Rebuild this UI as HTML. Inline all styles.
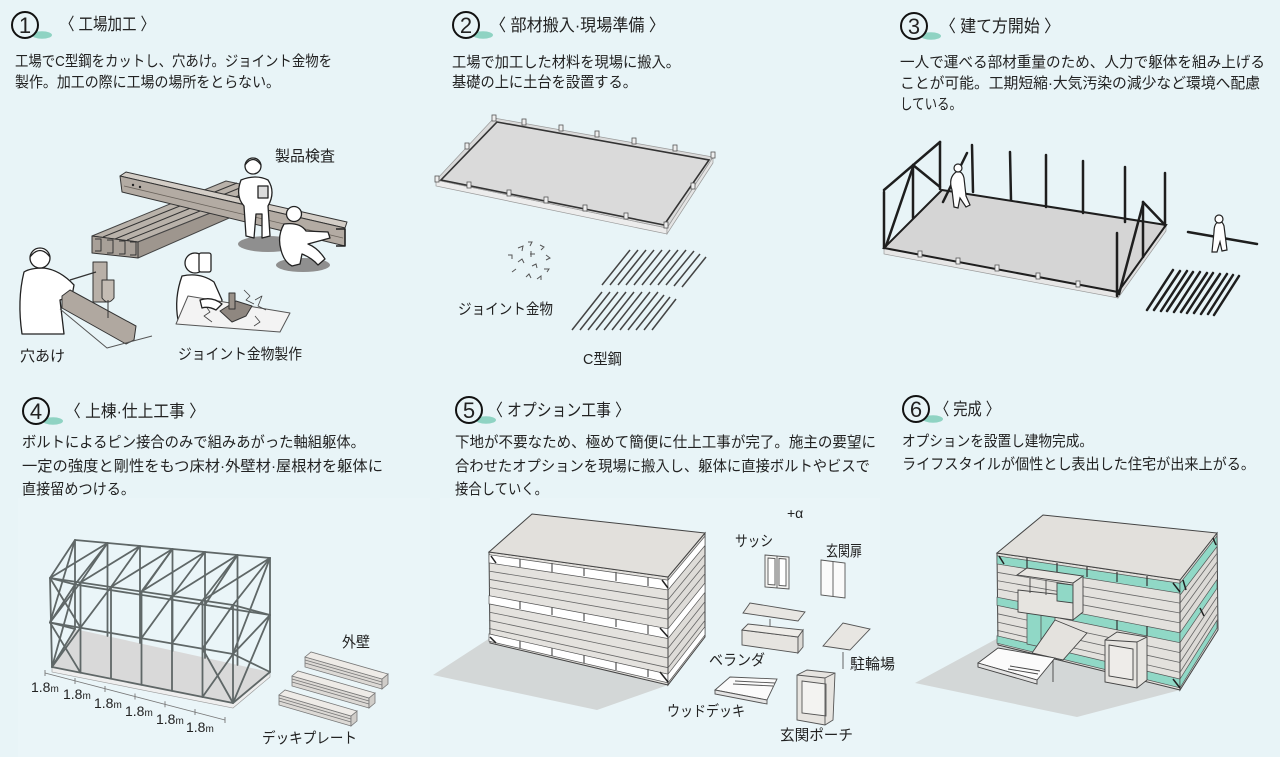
<!DOCTYPE html>
<html><head><meta charset="utf-8">
<style>
html,body{margin:0;padding:0;background:#e8f4f7;}
svg{display:block}
text{font-family:"Liberation Sans","Noto Sans CJK JP",sans-serif;fill:#222;}
</style></head>
<body>
<svg width="1280" height="757" viewBox="0 0 1280 757" xmlns="http://www.w3.org/2000/svg">
<rect width="1280" height="757" fill="#e8f4f7"/>
<rect x="18" y="498" width="412" height="259" fill="#eaf5f8"/>
<rect x="440" y="498" width="440" height="259" fill="#eaf5f8"/>

<!-- ===== Number badges ===== -->
<g>
<ellipse cx="42" cy="35" rx="10" ry="3.8" fill="#8fd3c3"/>
<circle cx="25" cy="25" r="13" fill="#e8f4f7" stroke="#111" stroke-width="2"/>
<text x="25" y="33" font-size="22" text-anchor="middle" fill="#111">1</text>
<ellipse cx="483" cy="35" rx="10" ry="3.8" fill="#8fd3c3"/>
<circle cx="466" cy="25" r="13" fill="#e8f4f7" stroke="#111" stroke-width="2"/>
<text x="466" y="33" font-size="22" text-anchor="middle" fill="#111">2</text>
<ellipse cx="931" cy="36" rx="10" ry="3.8" fill="#8fd3c3"/>
<circle cx="914" cy="26" r="13" fill="#e8f4f7" stroke="#111" stroke-width="2"/>
<text x="914" y="34" font-size="22" text-anchor="middle" fill="#111">3</text>
<ellipse cx="53" cy="421" rx="10" ry="3.8" fill="#8fd3c3"/>
<circle cx="36" cy="411" r="13" fill="#e8f4f7" stroke="#111" stroke-width="2"/>
<text x="36" y="419" font-size="22" text-anchor="middle" fill="#111">4</text>
<ellipse cx="486" cy="420" rx="10" ry="3.8" fill="#8fd3c3"/>
<circle cx="469" cy="410" r="13" fill="#e8f4f7" stroke="#111" stroke-width="2"/>
<text x="469" y="418" font-size="22" text-anchor="middle" fill="#111">5</text>
<ellipse cx="933" cy="419" rx="10" ry="3.8" fill="#8fd3c3"/>
<circle cx="916" cy="409" r="13" fill="#e8f4f7" stroke="#111" stroke-width="2"/>
<text x="916" y="417" font-size="22" text-anchor="middle" fill="#111">6</text>
</g>

<!-- ===== Headings ===== -->
<text x="60" y="30" font-size="17" textLength="95" lengthAdjust="spacingAndGlyphs">〈 工場加工 〉</text>
<text x="490" y="31" font-size="17" textLength="175" lengthAdjust="spacingAndGlyphs">〈 部材搬入·現場準備 〉</text>
<text x="940" y="32" font-size="17" textLength="120" lengthAdjust="spacingAndGlyphs">〈 建て方開始 〉</text>
<text x="65" y="417" font-size="17" textLength="140" lengthAdjust="spacingAndGlyphs">〈 上棟·仕上工事 〉</text>
<text x="488" y="416" font-size="17" textLength="142" lengthAdjust="spacingAndGlyphs">〈 オプション工事 〉</text>
<text x="935" y="415" font-size="17" textLength="65" lengthAdjust="spacingAndGlyphs">〈 完成 〉</text>

<!-- ===== Body text ===== -->
<g font-size="15">
<text x="15" y="66" textLength="317" lengthAdjust="spacingAndGlyphs">工場でC型鋼をカットし、穴あけ。ジョイント金物を</text>
<text x="15" y="87" textLength="265" lengthAdjust="spacingAndGlyphs">製作。加工の際に工場の場所をとらない。</text>

<text x="452" y="67" textLength="228" lengthAdjust="spacingAndGlyphs">工場で加工した材料を現場に搬入。</text>
<text x="452" y="87" textLength="185" lengthAdjust="spacingAndGlyphs">基礎の上に土台を設置する。</text>

<text x="900" y="67" textLength="365" lengthAdjust="spacingAndGlyphs">一人で運べる部材重量のため、人力で躯体を組み上げる</text>
<text x="900" y="88" textLength="360" lengthAdjust="spacingAndGlyphs">ことが可能。工期短縮·大気汚染の減少など環境へ配慮</text>
<text x="900" y="109" textLength="62" lengthAdjust="spacingAndGlyphs">している。</text>

<text x="22" y="447" textLength="343" lengthAdjust="spacingAndGlyphs">ボルトによるピン接合のみで組みあがった軸組躯体。</text>
<text x="22" y="471" textLength="361" lengthAdjust="spacingAndGlyphs">一定の強度と剛性をもつ床材·外壁材·屋根材を躯体に</text>
<text x="22" y="494" textLength="113" lengthAdjust="spacingAndGlyphs">直接留めつける。</text>

<text x="455" y="447" textLength="421" lengthAdjust="spacingAndGlyphs">下地が不要なため、極めて簡便に仕上工事が完了。施主の要望に</text>
<text x="455" y="471" textLength="415" lengthAdjust="spacingAndGlyphs">合わせたオプションを現場に搬入し、躯体に直接ボルトやビスで</text>
<text x="455" y="494" textLength="93" lengthAdjust="spacingAndGlyphs">接合していく。</text>

<text x="902" y="446" textLength="191" lengthAdjust="spacingAndGlyphs">オプションを設置し建物完成。</text>
<text x="902" y="469" textLength="353" lengthAdjust="spacingAndGlyphs">ライフスタイルが個性とし表出した住宅が出来上がる。</text>
</g>

<!-- ===== Panel 1 illustration ===== -->
<g stroke-linejoin="round">
<ellipse cx="268" cy="244" rx="30" ry="8" fill="#8f8f8f"/>
<ellipse cx="303" cy="265" rx="27" ry="7" fill="#8f8f8f"/>
<polygon points="92,236 226,181 268,190 138,242" fill="#b9b2aa" stroke="#444" stroke-width="1"/>
<polygon points="138,242 268,190 268,201 138,258" fill="#9e968e" stroke="#444" stroke-width="1"/>
<polygon points="92,236 138,242 138,258 92,253" fill="#a8a098" stroke="#333" stroke-width="1"/>
<g stroke="#333" stroke-width="1" fill="none">
<line x1="103" y1="237" x2="237" y2="183"/><line x1="115" y1="239" x2="247" y2="185"/><line x1="127" y1="240" x2="258" y2="188"/>
<path d="M95,239 h6 v12 h-6 M107,240 h6 v13 h-6 M119,241 h6 v13 h-6 M130,242 h6 v13 h-6"/>
</g>
<polygon points="120,176 126,172 347,222 345,228" fill="#d3cdc6" stroke="#333" stroke-width="1"/>
<polygon points="120,176 345,228 345,246 122,192" fill="#b3aba3" stroke="#333" stroke-width="1"/>
<line x1="124" y1="186" x2="343" y2="238" stroke="#6a635c" stroke-width=".8"/>
<path d="M336,229 h9 v17 h-9" fill="none" stroke="#222" stroke-width="1.6"/>
<circle cx="133" cy="185" r="1.2" fill="#222"/><circle cx="140" cy="187" r="1.2" fill="#222"/>
<g fill="#fff" stroke="#222" stroke-width="1.3">
<path d="M241,180 Q235,196 244,206 L246,236 L254,238 L256,214 L262,214 L262,238 L270,236 L268,206 Q276,192 268,180 Q256,174 241,180 Z"/>
<circle cx="253" cy="166" r="8"/>
<path d="M245,165 Q253,154 261,165" fill="#fff"/>
<rect x="258" y="186" width="10" height="12" fill="#ddd"/>
<path d="M284,224 Q277,236 281,250 Q284,262 292,266 L300,264 L302,254 Q312,258 318,265 L325,259 Q318,248 308,244 L330,238 L328,232 L306,231 Q300,222 284,224 Z"/>
<circle cx="294" cy="214" r="7.5"/>
<path d="M24,272 Q17,300 22,334 L64,334 L60,300 L72,296 L74,285 Q60,270 44,268 Q30,268 24,272 Z"/>
<circle cx="40" cy="258" r="10"/>
<path d="M30,257 Q40,244 50,257" />
</g>
<polygon points="62,296 70,290 136,326 134,340 126,344 62,308" fill="#b0a8a0" stroke="#333" stroke-width="1"/>
<polyline points="60,309 107,348 152,336" fill="none" stroke="#555" stroke-width="1"/>
<rect x="93" y="262" width="14" height="40" fill="#b8b0a8" stroke="#333" stroke-width="1"/>
<path d="M102,280 h12 v18 q-6,8 -12,0 z" fill="#c4bcb4" stroke="#333" stroke-width="1"/>
<line x1="108" y1="300" x2="108" y2="318" stroke="#333" stroke-width="1"/>
<line x1="70" y1="280" x2="96" y2="272" stroke="#333" stroke-width="1.2"/>
<g fill="#fff" stroke="#222" stroke-width="1.3">
<path d="M182,276 Q174,298 178,320 L218,322 L222,300 L214,282 Q200,272 182,276 Z"/>
<circle cx="195" cy="263" r="10"/>
<rect x="199" y="253" width="12" height="19" rx="2"/>
</g>
<polygon points="176,324 188,296 290,313 280,332" fill="#f3f3f3" stroke="#555" stroke-width="1"/>
<polygon points="220,311 236,301 252,306 246,316 232,322" fill="#8f8780" stroke="#333" stroke-width="1"/>
<rect x="229" y="293" width="6" height="16" fill="#9a928a" stroke="#333" stroke-width="1"/>
<g fill="none" stroke="#444" stroke-width=".8">
<polyline points="244,290 250,296 246,300 254,304"/>
<polyline points="255,300 262,296 258,306 266,310"/>
<polyline points="205,305 210,312 204,316 212,322"/>
<polyline points="255,316 260,322 254,326"/>
</g>
<g fill="#fff" stroke="#222" stroke-width="1.3">
<path d="M200,300 Q212,296 222,304 L216,310 Q208,306 202,308 Z"/>
</g>
</g>
<g font-size="15">
<text x="275" y="161" textLength="60" lengthAdjust="spacingAndGlyphs">製品検査</text>
<text x="20" y="361" textLength="45" lengthAdjust="spacingAndGlyphs">穴あけ</text>
<text x="178" y="359" textLength="124" lengthAdjust="spacingAndGlyphs">ジョイント金物製作</text>
</g>

<!-- ===== Panel 2 illustration ===== -->
<g>
<polygon points="436,180 667,228 667,234 436,186" fill="#ececec" stroke="#999" stroke-width=".7"/>
<polygon points="667,228 713,157 713,163 667,234" fill="#e4e4e4" stroke="#999" stroke-width=".7"/>
<polygon points="494,118 713,157 667,228 436,180" fill="#dadada" stroke="#999" stroke-width=".7"/>
<polygon points="497,122 709,160 664,225 441,180" fill="none" stroke="#333" stroke-width="1.6"/>
<g fill="#eee" stroke="#555" stroke-width=".8">
<rect x="492" y="115" width="4" height="6"/><rect x="522" y="119" width="4" height="6"/><rect x="559" y="125" width="4" height="6"/><rect x="595" y="131" width="4" height="6"/><rect x="632" y="138" width="4" height="6"/><rect x="673" y="145" width="4" height="6"/><rect x="711" y="152" width="4" height="6"/>
<rect x="435" y="176" width="4" height="6"/><rect x="467" y="182" width="4" height="6"/><rect x="507" y="190" width="4" height="6"/><rect x="544" y="197" width="4" height="6"/><rect x="583" y="205" width="4" height="6"/><rect x="624" y="213" width="4" height="6"/><rect x="664" y="222" width="4" height="6"/>
<rect x="465" y="143" width="4" height="6"/><rect x="691" y="183" width="4" height="6"/>
</g>
<g fill="none" stroke="#555" stroke-width="1">
<path d="M508,255 l4,0 l0,4 M518,248 l5,-2 l-1,5 M528,242 l4,0 l-2,4 M540,245 l4,2 l-3,3 M546,255 l4,3 l-4,2 M530,254 l5,0 M531,251 l0,6 M518,262 l4,-3 l2,4 M532,266 l4,-2 l1,4 M544,269 l5,0 l-2,3 M512,272 l4,-3 M526,277 l3,-3 l2,4 M537,279 l4,-3 l0,4"/>
</g>
<g stroke="#444" stroke-width="1.5">
<line x1="602" y1="285" x2="630" y2="250"/><line x1="610" y1="285" x2="638" y2="250"/><line x1="618" y1="285" x2="646" y2="250"/><line x1="626" y1="285" x2="654" y2="250"/><line x1="634" y1="285" x2="662" y2="250"/><line x1="642" y1="285" x2="670" y2="250"/><line x1="650" y1="285" x2="678" y2="250"/><line x1="658" y1="285" x2="686" y2="250"/><line x1="666" y1="285" x2="694" y2="251"/><line x1="674" y1="286" x2="700" y2="254"/><line x1="682" y1="287" x2="706" y2="257"/>
<line x1="572" y1="330" x2="602" y2="292"/><line x1="580" y1="330" x2="610" y2="292"/><line x1="588" y1="330" x2="618" y2="292"/><line x1="596" y1="330" x2="626" y2="292"/><line x1="604" y1="330" x2="634" y2="292"/><line x1="612" y1="330" x2="642" y2="292"/><line x1="620" y1="330" x2="650" y2="292"/><line x1="628" y1="330" x2="658" y2="292"/><line x1="636" y1="330" x2="664" y2="295"/><line x1="644" y1="330" x2="670" y2="297"/><line x1="652" y1="330" x2="676" y2="299"/>
</g>
</g>
<g font-size="15">
<text x="458" y="314" textLength="95" lengthAdjust="spacingAndGlyphs">ジョイント金物</text>
<text x="583" y="364" textLength="39" lengthAdjust="spacingAndGlyphs">C型鋼</text>
</g>

<!-- ===== Panel 3 illustration ===== -->
<g>
<polygon points="884,248 1118,292 1118,298 884,254" fill="#e6e6e6" stroke="#999" stroke-width=".7"/>
<polygon points="1118,292 1166,225 1166,231 1118,298" fill="#dedede" stroke="#999" stroke-width=".7"/>
<polygon points="942,190 1166,225 1118,292 884,248" fill="#d5d5d5"/>
<polygon points="942,190 1166,225 1118,292 884,248" fill="none" stroke="#1e1e1e" stroke-width="2"/>
<g fill="#eee" stroke="#555" stroke-width=".8">
<rect x="918" y="251" width="4" height="6"/><rect x="956" y="258" width="4" height="6"/><rect x="995" y="265" width="4" height="6"/><rect x="1036" y="273" width="4" height="6"/><rect x="1076" y="281" width="4" height="6"/>
</g>
<g stroke="#1e1e1e" stroke-width="2.5" stroke-linecap="round">
<line x1="972" y1="145" x2="973" y2="192"/><line x1="1010" y1="152" x2="1011" y2="200"/><line x1="1046" y1="155" x2="1046" y2="207"/><line x1="1083" y1="161" x2="1083" y2="213"/><line x1="1125" y1="167" x2="1125" y2="222"/><line x1="1165" y1="173" x2="1165" y2="226"/>
<line x1="884" y1="192" x2="884" y2="248"/><line x1="913" y1="165" x2="913" y2="218"/><line x1="940" y1="142" x2="940" y2="189"/>
<line x1="884" y1="190" x2="940" y2="142"/><line x1="913" y1="165" x2="940" y2="187"/><line x1="886" y1="246" x2="913" y2="167"/>
<line x1="1117" y1="233" x2="1117" y2="296"/><line x1="1143" y1="202" x2="1143" y2="257"/>
<line x1="1119" y1="294" x2="1143" y2="204"/><line x1="1143" y1="202" x2="1165" y2="225"/>
<line x1="943" y1="202" x2="967" y2="153"/>
<line x1="1188" y1="232" x2="1257" y2="244"/>
</g>
<g fill="#fff" stroke="#222" stroke-width="1.2">
<path d="M952,190 Q948,178 956,172 Q962,170 964,178 L966,196 L970,205 L966,207 L960,198 L958,208 L954,207 Z"/>
<circle cx="958" cy="168" r="4"/>
<path d="M1212,252 L1214,232 Q1214,224 1218,222 Q1222,220 1224,226 L1227,250 L1222,251 L1220,242 L1217,252 Z"/>
<circle cx="1219" cy="219" r="4"/>
</g>
<g stroke="#1e1e1e" stroke-width="2.5" stroke-linecap="round">
<line x1="1147" y1="310" x2="1173" y2="270"/><line x1="1154" y1="310" x2="1180" y2="271"/><line x1="1161" y1="311" x2="1187" y2="271"/><line x1="1167" y1="311" x2="1193" y2="272"/><line x1="1174" y1="312" x2="1200" y2="272"/><line x1="1181" y1="312" x2="1207" y2="273"/><line x1="1187" y1="313" x2="1213" y2="273"/><line x1="1194" y1="313" x2="1220" y2="274"/><line x1="1201" y1="314" x2="1227" y2="274"/><line x1="1208" y1="314" x2="1233" y2="275"/><line x1="1214" y1="315" x2="1239" y2="276"/>
</g>
</g>

<!-- ===== Panel 4 illustration ===== -->
<g>
<polygon points="52,667 75,629 270,672 233,703" fill="#d9d9d9"/>
<polygon points="52,667 233,703 270,672 270,677 233,708 52,672" fill="#eeeeee" stroke="#999" stroke-width=".6"/>
<g stroke="#5f6767" stroke-width="1.8" fill="none" stroke-linecap="round">
<line x1="75" y1="540" x2="270" y2="558"/><line x1="75" y1="584.5" x2="270" y2="615"/>
<line x1="107.5" y1="543" x2="107.5" y2="636"/><line x1="140" y1="546" x2="140" y2="643"/><line x1="172.5" y1="549" x2="172.5" y2="651"/><line x1="205" y1="552" x2="205" y2="658"/><line x1="237.5" y1="555" x2="237.5" y2="665"/>
<line x1="75" y1="584.5" x2="107.5" y2="543"/><line x1="140" y1="594.7" x2="172.5" y2="549"/><line x1="205" y1="604.9" x2="237.5" y2="555"/>
<line x1="50" y1="578" x2="75" y2="540"/><line x1="50" y1="622.5" x2="75" y2="584.5"/><line x1="52" y1="667" x2="75" y2="629"/><line x1="75" y1="540" x2="75" y2="629"/>
<line x1="50" y1="578" x2="75" y2="584.5"/><line x1="50" y1="622.5" x2="75" y2="540"/><line x1="50" y1="622.5" x2="75" y2="629"/><line x1="52" y1="667" x2="75" y2="584.5"/>
<line x1="233" y1="605" x2="270" y2="558"/><line x1="233" y1="654" x2="270" y2="615"/><line x1="233" y1="703" x2="270" y2="672"/><line x1="270" y1="558" x2="270" y2="672"/>
<line x1="233" y1="605" x2="270" y2="615"/><line x1="233" y1="654" x2="270" y2="558"/><line x1="233" y1="654" x2="270" y2="672"/><line x1="233" y1="703" x2="270" y2="615"/>
<line x1="80.5" y1="582.5" x2="107.5" y2="543"/><line x1="111" y1="587" x2="140" y2="546"/><line x1="141.5" y1="591.5" x2="172.5" y2="549"/><line x1="172" y1="596" x2="205" y2="552"/><line x1="202.5" y1="600.5" x2="237.5" y2="555"/>
<line x1="50" y1="578" x2="107.5" y2="543"/><line x1="80.5" y1="582.5" x2="140" y2="546"/><line x1="111" y1="587" x2="172.5" y2="549"/><line x1="141.5" y1="591.5" x2="205" y2="552"/><line x1="172" y1="596" x2="237.5" y2="555"/><line x1="202.5" y1="600.5" x2="270" y2="558"/>
<line x1="50" y1="578" x2="233" y2="605"/><line x1="50" y1="622.5" x2="233" y2="654"/><line x1="52" y1="667" x2="233" y2="703"/>
<line x1="50" y1="578" x2="52" y2="667"/><line x1="80.5" y1="582.5" x2="80.5" y2="672.7"/><line x1="111" y1="587" x2="111" y2="678.7"/><line x1="141.5" y1="591.5" x2="141.5" y2="684.8"/><line x1="172" y1="596" x2="172" y2="690.9"/><line x1="202.5" y1="600.5" x2="202.5" y2="697"/><line x1="233" y1="605" x2="233" y2="703"/>
<line x1="50" y1="578" x2="80.5" y2="627.6"/><line x1="50" y1="622.5" x2="80.5" y2="582.5"/>
<line x1="50" y1="622.5" x2="80.5" y2="672.7"/><line x1="52" y1="667" x2="80.5" y2="627.6"/>
<line x1="202.5" y1="648.7" x2="233" y2="703"/><line x1="202.5" y1="697" x2="233" y2="654"/>
<line x1="202.5" y1="648.7" x2="233" y2="605"/>
<line x1="80.5" y1="627.6" x2="111" y2="587"/><line x1="141.5" y1="638.1" x2="172" y2="596"/><line x1="172" y1="643.4" x2="202.5" y2="600.5"/>
</g>
<g stroke="#777" stroke-width=".9">
<line x1="45" y1="673" x2="225" y2="720"/>
<line x1="45" y1="670" x2="45" y2="676"/><line x1="75" y1="678" x2="75" y2="684"/><line x1="105" y1="686" x2="105" y2="692"/><line x1="135" y1="693.5" x2="135" y2="699.5"/><line x1="165" y1="701.3" x2="165" y2="707.3"/><line x1="195" y1="709" x2="195" y2="715"/><line x1="225" y1="717" x2="225" y2="723"/>
</g>
<g font-size="14">
<text x="31" y="692">1.8<tspan font-size="10">m</tspan></text>
<text x="63" y="699">1.8<tspan font-size="10">m</tspan></text>
<text x="94" y="708">1.8<tspan font-size="10">m</tspan></text>
<text x="125" y="716">1.8<tspan font-size="10">m</tspan></text>
<text x="156" y="724">1.8<tspan font-size="10">m</tspan></text>
<text x="186" y="732">1.8<tspan font-size="10">m</tspan></text>
</g>
<g stroke="#777" stroke-width=".8">
<polygon points="305,657 382,679 382,689 305,667" fill="#dcd9d5"/>
<polygon points="382,679 388,674 388,684 382,689" fill="#d0cdc9"/>
<polygon points="305,657 311,652 388,674 382,679" fill="#eeebe7"/>
<line x1="305" y1="660" x2="382" y2="682"/><line x1="305" y1="663" x2="382" y2="685"/>
<polygon points="292,676 369,698 369,708 292,686" fill="#dcd9d5"/>
<polygon points="369,698 375,693 375,703 369,708" fill="#d0cdc9"/>
<polygon points="292,676 298,671 375,693 369,698" fill="#eeebe7"/>
<line x1="292" y1="679" x2="369" y2="701"/><line x1="292" y1="682" x2="369" y2="704"/>
<polygon points="279,695 351,716 351,726 279,705" fill="#dcd9d5"/>
<polygon points="351,716 357,711 357,721 351,726" fill="#d0cdc9"/>
<polygon points="279,695 285,690 357,711 351,716" fill="#eeebe7"/>
<line x1="279" y1="698" x2="351" y2="719"/><line x1="279" y1="701" x2="351" y2="722"/>
</g>
</g>
<g font-size="15">
<text x="342" y="647" textLength="28" lengthAdjust="spacingAndGlyphs">外壁</text>
<text x="262" y="743" textLength="95" lengthAdjust="spacingAndGlyphs">デッキプレート</text>
</g>

<!-- ===== Panel 5 illustration ===== -->
<g>
<polygon points="433,675 490,638 668,685 597,710" fill="#d3d7d7"/>
<polygon points="489,552 668,577 668,685 490,643" fill="#e4e2de" stroke="#444" stroke-width="1"/>
<g fill="#ffffff" stroke="#555" stroke-width=".7">
<polygon points="489,554.7 668,580.2 668,590 489,562.9"/>
<polygon points="489,595.7 668,628.8 668,638.6 489,603.9"/>
<polygon points="489,633.9 668,674.2 668,682.8 489,641.2"/>
</g>
<g stroke="#555" stroke-width="1.2">
<line x1="520" y1="559" x2="520" y2="567"/><line x1="552" y1="563" x2="552" y2="572"/><line x1="584" y1="568" x2="584" y2="576"/><line x1="616" y1="572" x2="616" y2="581"/><line x1="648" y1="577" x2="648" y2="586"/>
<line x1="520" y1="601" x2="520" y2="609"/><line x1="552" y1="607" x2="552" y2="615"/><line x1="584" y1="613" x2="584" y2="621"/><line x1="616" y1="619" x2="616" y2="627"/><line x1="648" y1="625" x2="648" y2="634"/>
<line x1="520" y1="641" x2="520" y2="648"/><line x1="552" y1="648" x2="552" y2="656"/><line x1="584" y1="655" x2="584" y2="663"/><line x1="616" y1="662" x2="616" y2="670"/><line x1="648" y1="669" x2="648" y2="677"/>
</g>
<g stroke="#666" stroke-width=".8">
<line x1="489" y1="571.1" x2="668" y2="599.7"/><line x1="489" y1="579.3" x2="668" y2="609.4"/><line x1="489" y1="587.5" x2="668" y2="619.1"/>
<line x1="489" y1="612.1" x2="668" y2="648.3"/><line x1="489" y1="620.3" x2="668" y2="658"/><line x1="489" y1="628.4" x2="668" y2="667.7"/>
</g>
<polygon points="668,577 705,533 705,637 668,685" fill="#dedcd8" stroke="#444" stroke-width="1"/>
<g fill="#fff" stroke="#555" stroke-width=".7">
<polygon points="668,580.2 705,536.1 705,545.5 668,590"/>
<polygon points="668,628.8 705,582.9 705,592.3 668,638.6"/>
<polygon points="668,674.2 705,626.6 705,634.9 668,682.8"/>
</g>
<g stroke="#666" stroke-width=".8">
<line x1="668" y1="599.7" x2="705" y2="554.8"/><line x1="668" y1="609.4" x2="705" y2="564.2"/><line x1="668" y1="619.1" x2="705" y2="573.6"/>
<line x1="668" y1="648.3" x2="705" y2="601.6"/><line x1="668" y1="658" x2="705" y2="611"/><line x1="668" y1="667.7" x2="705" y2="620.4"/>
</g>
<polygon points="489,552 532,514 705,533 668,577" fill="#e2e0dc" stroke="#444" stroke-width="1"/>
<g stroke="#222" stroke-width="1.5">
<line x1="491" y1="556" x2="496" y2="563"/><line x1="662" y1="580" x2="668" y2="588"/><line x1="660" y1="628" x2="668" y2="637"/><line x1="490" y1="637" x2="496" y2="643"/><line x1="660" y1="672" x2="668" y2="682"/>
</g>
<g fill="#f4f4f2" stroke="#555" stroke-width=".9">
<polygon points="765,555 789,557 789,589 765,587"/>
<line x1="777" y1="556" x2="777" y2="588"/>
<polygon points="768,558 775,558.5 775,585 768,584.5" fill="#fff"/>
<polygon points="779,558.5 786,559 786,586 779,585.5" fill="#fff"/>
<polygon points="821,560 845,563 845,598 821,595" fill="#fafafa"/>
<line x1="833" y1="561.5" x2="833" y2="596.5"/>
<polygon points="743,613 750,603 805,612 798,621" fill="#e8e6e2"/>
<line x1="770" y1="619" x2="770" y2="632" />
<polygon points="742,630 798,637 798,653 742,645" fill="#e6e4e0"/>
<polygon points="798,637 803,630 803,647 798,653" fill="#dcdad6"/>
<polygon points="742,630 748,624 803,630 798,637" fill="#eeece8"/>
<polygon points="823,646 843,623 870,629 850,650" fill="#e8e6e2"/>
<line x1="843" y1="652" x2="843" y2="669"/>
<polygon points="715,690 730,677 777,679 767,700" fill="#fbfbfb"/>
<polygon points="715,690 767,700 767,704 715,694" fill="#e4e4e4"/>
<line x1="735" y1="681" x2="775" y2="683"/><line x1="733" y1="684" x2="773" y2="686"/>
<polygon points="797,675 807,670 835,673 833,720 825,725 797,720" fill="#e6e4e0"/>
<polygon points="802,681 826,684 826,716 802,713" fill="#f3f3f1"/>
<line x1="825" y1="678" x2="835" y2="673"/><line x1="825" y1="678" x2="825" y2="725"/><line x1="797" y1="675" x2="825" y2="678"/>
</g>
</g>
<g font-size="15">
<text x="787" y="518" font-size="14">+α</text>
<text x="735" y="546" textLength="38" lengthAdjust="spacingAndGlyphs">サッシ</text>
<text x="826" y="556" textLength="36" lengthAdjust="spacingAndGlyphs">玄関扉</text>
<text x="709" y="665" textLength="56" lengthAdjust="spacingAndGlyphs">ベランダ</text>
<text x="850" y="669" textLength="45" lengthAdjust="spacingAndGlyphs">駐輪場</text>
<text x="667" y="716" textLength="78" lengthAdjust="spacingAndGlyphs">ウッドデッキ</text>
<text x="780" y="740" textLength="73" lengthAdjust="spacingAndGlyphs">玄関ポーチ</text>
</g>

<!-- ===== Panel 6 illustration ===== -->
<g>
<polygon points="915,683 1000,637 1180,690 1077,717" fill="#d3d7d7"/>
<polygon points="997,553 1180,580 1180,690 998,645" fill="#e3e1dd" stroke="#444" stroke-width="1"/>
<g fill="#90d8c6" stroke="#555" stroke-width=".7">
<polygon points="997,555.8 1180,583.3 1180,593.2 997,564"/>
<polygon points="997,597.2 1180,632.8 1180,642.7 997,605.4"/>
<polygon points="997,635.8 1180,679 1180,687.8 997,643.2"/>
</g>
<g stroke="#666" stroke-width=".8">
<line x1="997" y1="572.3" x2="1180" y2="603.1"/><line x1="997" y1="580.6" x2="1180" y2="613"/><line x1="997" y1="588.9" x2="1180" y2="622.9"/>
<line x1="997" y1="613.7" x2="1180" y2="652.6"/><line x1="997" y1="622" x2="1180" y2="662.5"/><line x1="997" y1="630.3" x2="1180" y2="672.4"/>
</g>
<g stroke="#333" stroke-width="1.2">
<line x1="1027" y1="558" x2="1027" y2="568"/><line x1="1057" y1="563" x2="1057" y2="573"/><line x1="1087" y1="567" x2="1087" y2="577"/><line x1="1117" y1="572" x2="1117" y2="582"/><line x1="1147" y1="576" x2="1147" y2="586"/>
<line x1="1117" y1="620" x2="1117" y2="630"/><line x1="1147" y1="626" x2="1147" y2="636"/>
</g>
<polygon points="1027,612 1055,617 1055,650 1027,644" fill="#90d8c6" stroke="#555" stroke-width=".8"/>
<line x1="1041" y1="614" x2="1041" y2="647" stroke="#555" stroke-width=".8"/>
<g stroke="#444" stroke-width=".9">
<polygon points="1018,590 1073,596 1073,620 1018,612" fill="#e6e4e0"/>
<polygon points="1057,583 1073,585 1073,603 1057,601" fill="#90d8c6"/>
<polygon points="1073,583 1083,576 1083,612 1073,620" fill="#e0deda"/>
<polygon points="1017,575 1027,568 1083,576 1073,583" fill="#e8e6e2"/>
<line x1="1030" y1="578" x2="1030" y2="593" /><line x1="1046" y1="580" x2="1046" y2="595"/>
<polygon points="1032,653 1055,620 1087,633 1063,660" fill="#e4e2de"/>
<polygon points="978,663 998,648 1055,658 1037,680" fill="#fbfbfb"/>
<polygon points="978,663 1037,680 1037,684 978,667" fill="#e4e4e4"/>
<line x1="1053" y1="660" x2="1053" y2="682"/>
<line x1="1010" y1="666" x2="1040" y2="671"/><line x1="1008" y1="669" x2="1038" y2="674"/>
<polygon points="1105,640 1117,632 1147,637 1147,680 1137,688 1105,682" fill="#e6e4e0"/>
<polygon points="1109,645 1133,649 1133,680 1109,676" fill="#eeece9"/>
<line x1="1137" y1="642" x2="1147" y2="637"/><line x1="1137" y1="642" x2="1137" y2="688"/><line x1="1105" y1="640" x2="1137" y2="642"/>
</g>
<polygon points="1180,580 1217,533 1218,630 1180,690" fill="#dcdad6" stroke="#444" stroke-width="1"/>
<g fill="#90d8c6" stroke="#555" stroke-width=".7">
<polygon points="1180,583.3 1217,535.9 1217,546.6 1180,595.2"/>
<polygon points="1180,632.8 1217,579.6 1217,588.3 1180,642.7"/>
<polygon points="1180,679 1217,620.3 1217,628.1 1180,687.8"/>
</g>
<g stroke="#666" stroke-width=".8">
<line x1="1180" y1="603.1" x2="1217" y2="553.4"/><line x1="1180" y1="613" x2="1217" y2="562.1"/><line x1="1180" y1="622.9" x2="1217" y2="570.8"/>
<line x1="1180" y1="652.6" x2="1217" y2="597"/><line x1="1180" y1="662.5" x2="1217" y2="605.8"/><line x1="1180" y1="672.4" x2="1217" y2="614.5"/>
</g>
<polygon points="997,553 1043,515 1217,533 1180,580" fill="#e2e0dc" stroke="#444" stroke-width="1"/>
<g stroke="#222" stroke-width="1.5">
<line x1="999" y1="556" x2="1004" y2="564"/><line x1="1173" y1="583" x2="1180" y2="592"/><line x1="1183" y1="580" x2="1186" y2="590"/><line x1="1200" y1="608" x2="1204" y2="616"/><line x1="1173" y1="679" x2="1180" y2="688"/><line x1="1213" y1="538" x2="1216" y2="545"/>
</g>
</g>
</svg>
</body></html>
